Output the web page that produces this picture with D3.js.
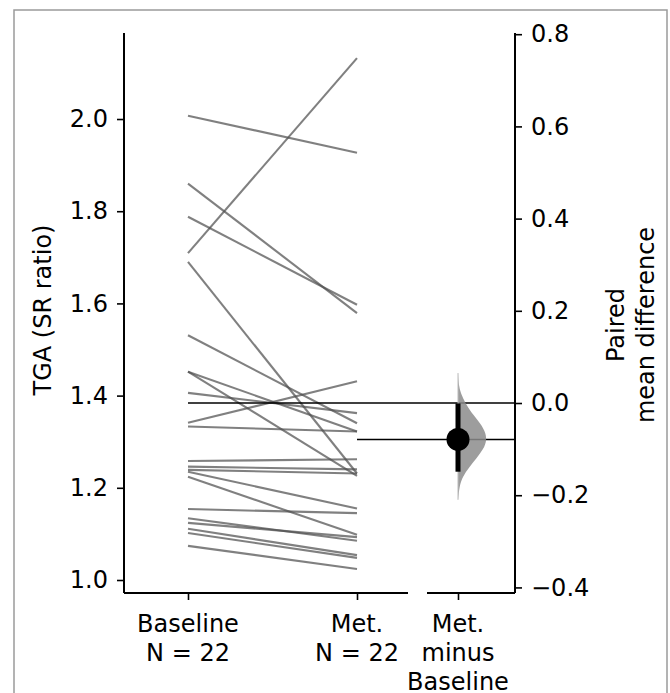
<!DOCTYPE html>
<html>
<head>
<meta charset="utf-8">
<script src="https://cdn.jsdelivr.net/npm/d3@7"></script>
<style>
  html, body { margin: 0; padding: 0; background: #fff; }
  svg { display: block; font-family: "DejaVu Sans", sans-serif; }
</style>
</head>
<body>
<svg id="chart" width="670" height="693"></svg>
<script>
// ---------------- data ----------------
const groups = ["Baseline", "Met."];
const groupN = [22, 22];
const baseline = [2.007, 1.860, 1.788, 1.709, 1.690, 1.531, 1.452, 1.452, 1.406, 1.341, 1.333,
                  1.258, 1.246, 1.239, 1.235, 1.224, 1.154, 1.134, 1.124, 1.111, 1.102, 1.074];
const met      = [1.927, 1.579, 1.597, 2.132, 1.231, 1.340, 1.322, 1.226, 1.362, 1.431, 1.322,
                  1.262, 1.240, 1.231, 1.155, 1.098, 1.145, 1.085, 1.093, 1.054, 1.048, 1.024];
const leftTicks = [1.0, 1.2, 1.4, 1.6, 1.8, 2.0];
const rightTicks = [-0.4, -0.2, 0.0, 0.2, 0.4, 0.6, 0.8];
const contrastLabel = ["Met.", "minus", "Baseline"];
const meanDiff = -0.079;
const ciLow = -0.149, ciHigh = -0.001;
// bootstrap distribution outline (delta, relative density)
const bootDelta   = [0.065, 0.04, 0.02, 0.0, -0.02, -0.04, -0.06, -0.08, -0.10, -0.12, -0.14, -0.16, -0.18, -0.21];
const bootDensity = [0.0, 0.02, 0.10, 0.25, 0.45, 0.72, 0.93, 1.0, 0.88, 0.64, 0.38, 0.16, 0.05, 0.0];

// ---------------- layout ----------------
const svg = d3.select("#chart");
const FS = 24;
const topY = 33, bottomY = 593;
const leftSpineX = 124, rightSpineX = 515;
const rawXStart = 124, rawXEnd = 408, diffXStart = 427, diffXEnd = 515;

// frame
svg.append("rect").attr("x", 14).attr("y", 10).attr("width", 653).attr("height", 700)
  .attr("fill", "none").attr("stroke", "#9a9a9a").attr("stroke-width", 1.5);

const y = d3.scaleLinear().domain([0.9718, 2.1866]).range([bottomY, topY]);
const yD = d3.scaleLinear().domain([-0.4121, 0.8026]).range([bottomY, topY]);
const x = d3.scalePoint().domain(groups).range([188, 357]);
const cKey = contrastLabel.join(" ");
const xD = d3.scalePoint().domain([cKey]).range([427, 489]).padding(0.5);

// left axis
const gL = svg.append("g").attr("transform", `translate(${leftSpineX},0)`)
  .call(d3.axisLeft(y).tickValues(leftTicks).tickFormat(d3.format(".1f")).tickSize(7).tickPadding(9));
gL.select(".domain").remove();
gL.selectAll(".tick line").attr("stroke", "#000").attr("stroke-width", 1.6);
gL.selectAll(".tick text").attr("font-size", FS).attr("fill", "#000").attr("font-family", "DejaVu Sans");
svg.append("line").attr("x1", leftSpineX).attr("x2", leftSpineX).attr("y1", topY).attr("y2", bottomY)
  .attr("stroke", "#000").attr("stroke-width", 2);

// right axis
const gR = svg.append("g").attr("transform", `translate(${rightSpineX},0)`)
  .call(d3.axisRight(yD).tickValues(rightTicks).tickFormat(d => d3.format(".1f")(d).replace("-", "\u2212")).tickSize(7).tickPadding(9));
gR.select(".domain").remove();
gR.selectAll(".tick line").attr("stroke", "#000").attr("stroke-width", 1.6);
gR.selectAll(".tick text").attr("font-size", FS).attr("fill", "#000").attr("font-family", "DejaVu Sans");
svg.append("line").attr("x1", rightSpineX).attr("x2", rightSpineX).attr("y1", topY).attr("y2", bottomY)
  .attr("stroke", "#000").attr("stroke-width", 2);

// bottom axes
const gB = svg.append("g").attr("transform", `translate(0,${bottomY})`)
  .call(d3.axisBottom(x).tickSize(7).tickFormat(""));
gB.select(".domain").remove();
gB.selectAll(".tick line").attr("stroke", "#000").attr("stroke-width", 1.6);
svg.append("line").attr("x1", rawXStart).attr("x2", rawXEnd).attr("y1", bottomY).attr("y2", bottomY)
  .attr("stroke", "#000").attr("stroke-width", 2);
const gB2 = svg.append("g").attr("transform", `translate(0,${bottomY})`)
  .call(d3.axisBottom(xD).tickSize(7).tickFormat(""));
gB2.select(".domain").remove();
gB2.selectAll(".tick line").attr("stroke", "#000").attr("stroke-width", 1.6);
svg.append("line").attr("x1", diffXStart).attr("x2", diffXEnd).attr("y1", bottomY).attr("y2", bottomY)
  .attr("stroke", "#000").attr("stroke-width", 2);

// x labels
const lineH = 29, firstBase = 632;
groups.forEach((g, i) => {
  const t = svg.append("text").attr("text-anchor", "middle").attr("font-size", FS);
  t.append("tspan").attr("x", x(g)).attr("y", firstBase).text(g);
  t.append("tspan").attr("x", x(g)).attr("y", firstBase + lineH).text(`N = ${groupN[i]}`);
});
const cxD = xD(cKey);
{
  const t = svg.append("text").attr("text-anchor", "middle").attr("font-size", FS);
  contrastLabel.forEach((s, i) => t.append("tspan").attr("x", cxD).attr("y", firstBase + i * lineH).text(s));
}

// axis titles
svg.append("text").attr("transform", `translate(51,310) rotate(-90)`).attr("text-anchor", "middle")
  .attr("font-size", FS).text("TGA (SR ratio)");
const rt = svg.append("text").attr("transform", `translate(624,325) rotate(-90)`).attr("text-anchor", "middle")
  .attr("font-size", FS);
rt.append("tspan").attr("x", 0).attr("y", 0).text("Paired");
rt.append("tspan").attr("x", 0).attr("y", 30).text("mean difference");

// paired lines
const pairs = baseline.map((b, i) => [b, met[i]]);
svg.append("g").selectAll("line").data(pairs).join("line")
  .attr("x1", x(groups[0])).attr("x2", x(groups[1]))
  .attr("y1", d => y(d[0])).attr("y2", d => y(d[1]))
  .attr("stroke", "#4f4f4f").attr("stroke-opacity", 0.72).attr("stroke-width", 2.1);

// reference lines
svg.append("line").attr("x1", x(groups[0])).attr("x2", rightSpineX)
  .attr("y1", yD(0)).attr("y2", yD(0)).attr("stroke", "#000").attr("stroke-width", 1.6);
svg.append("line").attr("x1", x(groups[1])).attr("x2", rightSpineX)
  .attr("y1", yD(meanDiff)).attr("y2", yD(meanDiff)).attr("stroke", "#000").attr("stroke-width", 1.6);

// bootstrap half-violin
const w = d3.scaleLinear().domain([0, 1]).range([0, 29]);
const pts = bootDelta.map((d, i) => [d, bootDensity[i]]);
const area = d3.area().curve(d3.curveBasis)
  .y(d => yD(d[0])).x0(cxD).x1(d => cxD + w(d[1]));
svg.append("path").attr("d", area(pts)).attr("fill", "#8c8c8c").attr("fill-opacity", 0.85);
svg.append("line").attr("x1", cxD).attr("x2", cxD).attr("y1", yD(bootDelta[0])).attr("y2", yD(bootDelta[bootDelta.length-1]))
  .attr("stroke", "#bbb").attr("stroke-width", 1);

// CI + mean
svg.append("line").attr("x1", cxD).attr("x2", cxD).attr("y1", yD(ciHigh)).attr("y2", yD(ciLow))
  .attr("stroke", "#000").attr("stroke-width", 5);
svg.append("circle").attr("cx", cxD).attr("cy", yD(meanDiff)).attr("r", 11.5).attr("fill", "#000");
</script>
</body>
</html>
